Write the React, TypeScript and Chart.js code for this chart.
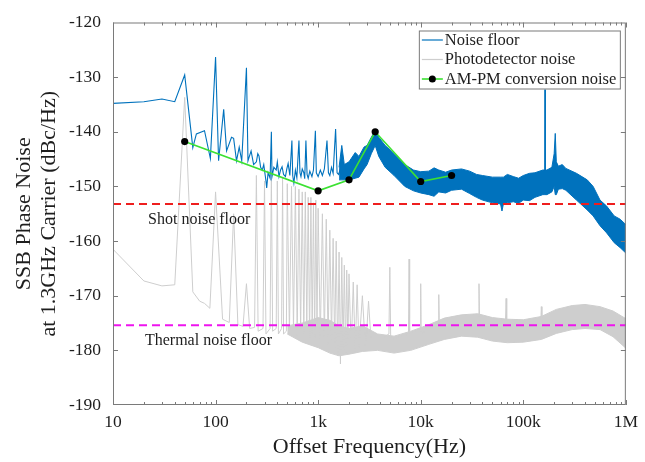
import React, { useEffect, useRef } from "react";
import { Chart, registerables } from "chart.js";
Chart.register(...registerables);

// ---------- axes ----------
const xTickValues = [10, 100, 1000, 10000, 100000, 1000000];
const xTickLabels = ["10", "100", "1k", "10k", "100k", "1M"];
const yMin = -190;
const yMax = -120;
const yStep = 10;

// ---------- Noise floor (blue): sparse low-frequency trace ----------
const noiseLowFreq = [
  10, 20, 30, 40, 50, 60, 65, 78, 89, 100, 107, 120, 128, 143, 150, 160, 170, 180, 200, 207,
  222, 235, 250, 258, 265, 275, 285, 295, 310, 315, 325, 340, 350, 355, 370, 390, 400, 415, 430,
  445, 460, 480, 495, 510, 530, 555, 565, 580, 600, 620, 650, 665, 680, 700, 725, 740, 760, 780,
  800, 830, 870, 900, 940, 960, 1000, 1050, 1100, 1150, 1220, 1260, 1300, 1350, 1400, 1480, 1530,
  1580, 1650,
];
const noiseLowVal = [
  -134.8, -134.5, -134.0, -134.5, -129.6, -142.9, -140.4, -139.8, -144.9, -126.3, -145.3, -135.9,
  -143.5, -141.0, -141.2, -145.3, -142.8, -145.3, -128.3, -145.3,
  -143.5, -146.0, -145.5, -144.0, -144.4, -146.5, -147.0, -146.0, -149.0, -150.3, -147.5, -148.5,
  -140.0, -148.2, -146.5, -147.0, -145.5, -148.2, -147.0, -146.4, -147.8, -148.2, -146.8, -145.8,
  -148.0, -141.6, -148.0, -149.4, -147.0, -148.4, -141.6, -147.5, -148.2, -146.8, -147.5, -148.6,
  -141.6, -147.8, -148.5, -147.2, -148.2, -147.0, -139.8, -147.5, -148.2, -147.0, -148.0, -146.8,
  -141.6, -147.5, -148.0, -146.5, -147.6, -139.5, -147.5, -147.8, -146.8,
];

// ---------- Noise floor (blue): dense band envelope ----------
const noiseBandFreq = [
  1600, 1700, 1800, 2000, 2300, 2500, 2800, 3000, 3300, 3600, 3900, 4500, 5500, 7000, 8500, 10000,
  12000, 13500, 15000, 17500, 20000, 25000, 30000, 35000, 40000, 50000, 60000, 62000, 64000,
  70000, 80000, 90000, 100000, 115000, 130000, 155000, 162000, 163000, 164000, 170000, 190000,
  200000, 205000, 210000, 220000, 240000, 260000, 330000, 420000, 480000, 560000, 650000, 770000,
  880000, 1000000,
];
const noiseBandUpper = [
  -146.5, -142.5, -146.0, -145.5, -143.8, -144.5, -142.8, -142.5, -141.0, -139.8, -141.0, -142.5,
  -144.0, -146.0, -147.0, -147.3, -147.2, -146.6, -147.0, -147.4, -147.0, -146.8, -147.2, -147.8,
  -148.0, -148.3, -148.3, -148.3, -148.3, -147.8, -148.2, -148.5, -148.0, -147.6, -147.5, -147.0,
  -147.0, -132.0, -147.0, -147.0, -146.5, -144.0, -140.3, -145.5, -146.3, -146.0, -146.7, -147.6,
  -148.8, -150.0, -152.5, -153.6, -155.4, -156.0, -157.0,
];
const noiseBandLower = [
  -148.8, -148.8, -148.8, -148.8, -148.5, -148.3, -146.8, -146.0, -144.0, -142.5, -144.5, -146.5,
  -148.0, -150.0, -150.8, -151.2, -151.5, -151.8, -151.0, -151.2, -150.7, -150.5, -151.3, -152.0,
  -152.5, -153.0, -153.2, -154.5, -153.2, -153.0, -152.8, -153.1, -152.5, -152.6, -152.0, -151.5,
  -151.5, -151.5, -151.5, -151.5, -151.0, -150.0, -151.5, -151.5, -150.5, -150.4, -150.7, -152.5,
  -154.3, -155.4, -157.2, -158.5, -160.3, -161.2, -162.2,
];

// ---------- Photodetector noise (gray): trace with harmonic spikes ----------
const pdLineFreq = [
  10, 20, 30, 40, 50, 60, 70, 78, 88, 100, 117, 136, 150, 165, 185, 200, 215, 240, 250, 260,
  290, 300, 310, 340, 350, 360, 390, 400, 410, 440, 450, 460, 490,
  500, 525, 550, 575, 600, 625, 650, 675, 700, 725, 750, 775, 800, 825, 850, 875, 900, 925, 950,
  975, 1000, 1050, 1100, 1150, 1200, 1250, 1300, 1350, 1400, 1450, 1500, 1550, 1600, 1650, 1700,
  1750, 1800, 1850, 1900, 1950, 2000, 2100, 2200, 2300, 2400, 2500, 2700, 2900, 3100, 3300,
  4900, 5000, 5100, 7600, 7700, 7800, 9900, 10000, 10100, 14800, 15000, 15200, 36500, 37000,
  37500, 67000, 68000, 69000, 148000, 150000, 152000,
];
const pdLineVal = [
  -161.5, -167.3, -168.2, -168.0, -133.7, -169.3, -171.0, -171.4, -172.3, -151.0, -174.3, -174.9,
  -155.0, -175.3, -175.6, -167.8, -176.0, -175.8, -148.0, -176.5, -176.0, -149.0, -177.0, -176.0,
  -147.5, -176.5, -176.0, -149.0, -177.0, -176.0, -148.5, -177.0, -176.5,
  -149.5, -177.0, -150.0, -176.0, -150.0, -177.5, -150.5, -176.5, -151.0, -177.0, -151.0, -176.0,
  -152.0, -178.0, -152.0, -177.0, -153.0, -178.0, -152.5, -176.5, -154.0, -178.0, -155.0, -177.5,
  -156.0, -179.0, -158.0, -178.0, -159.5, -179.5, -160.0, -181.0, -162.0, -182.5, -163.0, -180.0,
  -164.4, -180.5, -165.3, -179.0, -166.0, -180.0, -167.5, -180.5, -168.0, -179.5, -170.0, -180.0,
  -171.0, -179.0,
  -177.0, -164.8, -178.0, -177.0, -163.3, -177.0, -176.0, -167.8, -177.0, -175.0, -169.8, -176.0,
  -174.0, -167.8, -175.0, -175.0, -170.5, -176.0, -175.0, -172.0, -175.0,
];

// ---------- Photodetector noise (gray): dense band envelope ----------
const pdBandFreq = [
  500, 700, 1000, 1300, 1600, 2000, 2700, 3800, 5500, 8000, 12000, 17000, 25000, 36000, 50000,
  70000, 100000, 150000, 210000, 300000, 400000, 560000, 750000, 1000000,
];
const pdBandUpper = [
  -175.5, -175.0, -174.0, -174.5, -175.5, -176.0, -175.5, -177.0, -177.4, -176.5, -175.3, -174.1,
  -173.5, -173.3, -174.0, -174.3, -174.4, -173.8, -172.5, -171.8, -171.6, -172.0, -172.8, -174.2,
];
const pdBandLower = [
  -177.0, -178.5, -179.5, -180.5, -181.0, -180.7, -180.2, -180.0, -180.5, -180.0, -178.9, -178.0,
  -177.4, -177.6, -178.3, -178.6, -178.5, -178.0, -176.9, -176.2, -176.0, -176.2, -177.5, -179.6,
];

// ---------- AM-PM conversion noise ----------
const amFreq = [50, 1000, 2000, 3600, 10000, 20000];
const amVal = [-141.8, -150.8, -148.8, -140.0, -149.1, -148.0];

// ---------- reference floors ----------
const floorFreq = [10, 1000000];
const shotNoiseFloor = [-153.2, -153.2];
const thermalNoiseFloor = [-175.4, -175.4];

const shotLabel = { text: "Shot noise floor", x: 22, y: -156.1 };
const thermalLabel = { text: "Thermal noise floor", x: 20.5, y: -178.3 };

const legendItems = ["Noise floor", "Photodetector noise", "AM-PM conversion noise"];

const BLUE = "#0072BD";
const GRAY = "rgb(206,206,206)";
const GREEN = "rgb(60,225,50)";
const RED = "rgb(238,30,30)";
const MAGENTA = "rgb(238,20,238)";
const AXIS = "#7a7a7a";
const TEXT = "#1e1e1e";
const SERIF = "'Liberation Serif', 'Times New Roman', serif";

const pts = (xs: number[], ys: number[]) => xs.map((x, i) => ({ x, y: ys[i] }));

export default function App() {
  const ref = useRef<HTMLCanvasElement | null>(null);

  useEffect(() => {
    document.body.style.margin = "0";
    const canvas = ref.current;
    if (!canvas) return;

    const overlay = {
      id: "overlay",
      afterDraw(chart: any) {
        const { ctx, chartArea: ca, scales } = chart;
        const xs = scales.x;
        const ys = scales.y;
        ctx.save();
        // annotations
        ctx.fillStyle = TEXT;
        ctx.font = `16px ${SERIF}`;
        ctx.textBaseline = "middle";
        ctx.textAlign = "left";
        for (const a of [shotLabel, thermalLabel]) {
          ctx.fillText(a.text, xs.getPixelForValue(a.x), ys.getPixelForValue(a.y));
        }
        // axes box with inward ticks
        ctx.strokeStyle = AXIS;
        ctx.lineWidth = 1;
        ctx.strokeRect(ca.left + 0.5, ca.top + 0.5, ca.right - ca.left - 1, ca.bottom - ca.top - 1);
        ctx.beginPath();
        for (let v = yMin + yStep; v < yMax; v += yStep) {
          const py = Math.round(ys.getPixelForValue(v)) + 0.5;
          ctx.moveTo(ca.left, py);
          ctx.lineTo(ca.left + 5, py);
          ctx.moveTo(ca.right, py);
          ctx.lineTo(ca.right - 5, py);
        }
        for (let d = 0; d < xTickValues.length; d++) {
          const base = xTickValues[d];
          for (let m = 1; m <= 9; m++) {
            const f = base * m;
            if (f > xTickValues[xTickValues.length - 1]) break;
            const len = m === 1 ? 5 : 3;
            const px = Math.round(xs.getPixelForValue(f)) + 0.5;
            ctx.moveTo(px, ca.bottom);
            ctx.lineTo(px, ca.bottom - len);
            ctx.moveTo(px, ca.top);
            ctx.lineTo(px, ca.top + len);
          }
        }
        ctx.stroke();

        // legend
        const bw = 202;
        const bh = 59;
        const bx = ca.right - 5 - bw;
        const by = ca.top + 8;
        ctx.fillStyle = "#ffffff";
        ctx.fillRect(bx, by, bw, bh);
        ctx.strokeStyle = AXIS;
        ctx.strokeRect(bx + 0.5, by + 0.5, bw - 1, bh - 1);
        const rows = [by + 9.5, by + 29, by + 48.5];
        const styles = [
          { c: BLUE, w: 1.2 },
          { c: GRAY, w: 1.2 },
          { c: GREEN, w: 1.6 },
        ];
        ctx.font = `16.5px ${SERIF}`;
        ctx.textBaseline = "middle";
        for (let i = 0; i < legendItems.length; i++) {
          ctx.strokeStyle = styles[i].c;
          ctx.lineWidth = styles[i].w;
          ctx.beginPath();
          ctx.moveTo(bx + 3, rows[i]);
          ctx.lineTo(bx + 24, rows[i]);
          ctx.stroke();
          if (i === 2) {
            ctx.fillStyle = "#000";
            ctx.beginPath();
            ctx.arc(bx + 13.5, rows[i], 3.5, 0, Math.PI * 2);
            ctx.fill();
          }
          ctx.fillStyle = TEXT;
          ctx.fillText(legendItems[i], bx + 26, rows[i] + 0.5);
        }
        ctx.restore();
      },
    };

    const chart = new Chart(canvas, {
      type: "line",
      data: {
        datasets: [
          {
            label: "AM-PM conversion noise",
            data: pts(amFreq, amVal),
            borderColor: GREEN,
            borderWidth: 1.6,
            pointRadius: 3.6,
            pointBackgroundColor: "#000",
            pointBorderColor: "#000",
            pointBorderWidth: 0,
            order: 1,
          },
          {
            label: "shot",
            data: pts(floorFreq, shotNoiseFloor),
            borderColor: RED,
            borderWidth: 2,
            borderDash: [8, 5],
            pointRadius: 0,
            order: 2,
          },
          {
            label: "thermal",
            data: pts(floorFreq, thermalNoiseFloor),
            borderColor: MAGENTA,
            borderWidth: 2,
            borderDash: [8, 5],
            pointRadius: 0,
            order: 3,
          },
          {
            label: "Noise floor",
            data: pts(noiseLowFreq, noiseLowVal),
            borderColor: BLUE,
            borderWidth: 1.1,
            pointRadius: 0,
            order: 4,
          },
          {
            label: "noise band upper",
            data: pts(noiseBandFreq, noiseBandUpper),
            borderColor: BLUE,
            borderWidth: 1,
            pointRadius: 0,
            fill: false,
            order: 5,
          },
          {
            label: "noise band lower",
            data: pts(noiseBandFreq, noiseBandLower),
            borderColor: BLUE,
            backgroundColor: BLUE,
            borderWidth: 1,
            pointRadius: 0,
            fill: "-1",
            order: 5,
          },
          {
            label: "Photodetector noise",
            data: pts(pdLineFreq, pdLineVal),
            borderColor: GRAY,
            borderWidth: 1,
            pointRadius: 0,
            order: 7,
          },
          {
            label: "pd band upper",
            data: pts(pdBandFreq, pdBandUpper),
            borderColor: GRAY,
            borderWidth: 1,
            pointRadius: 0,
            fill: false,
            order: 8,
          },
          {
            label: "pd band lower",
            data: pts(pdBandFreq, pdBandLower),
            borderColor: GRAY,
            backgroundColor: GRAY,
            borderWidth: 1,
            pointRadius: 0,
            fill: "-1",
            order: 8,
          },
        ],
      },
      options: {
        responsive: false,
        animation: false,
        events: [],
        layout: { padding: { top: 17, right: 16, left: 0, bottom: 0 } },
        plugins: {
          legend: { display: false },
          tooltip: { enabled: false },
        },
        scales: {
          x: {
            type: "logarithmic",
            min: 10,
            max: 1000000,
            grid: { display: false, drawTicks: false },
            border: { display: false },
            afterBuildTicks: (scale: any) => {
              scale.ticks = xTickValues.map((v) => ({ value: v }));
            },
            afterFit: (scale: any) => {
              scale.height = 57;
            },
            ticks: {
              autoSkip: false,
              maxRotation: 0,
              padding: 7,
              color: TEXT,
              font: { family: SERIF, size: 17.5 },
              callback: (value: any) => {
                const i = xTickValues.indexOf(Number(value));
                return i >= 0 ? xTickLabels[i] : "";
              },
            },
            title: {
              display: true,
              text: "Offset Frequency(Hz)",
              color: TEXT,
              font: { family: SERIF, size: 22, lineHeight: 1.14 },
              padding: { top: 0, bottom: 2.5 },
            },
          },
          y: {
            type: "linear",
            min: yMin,
            max: yMax,
            grid: { display: false, drawTicks: false },
            border: { display: false },
            afterFit: (scale: any) => {
              scale.width = 113;
            },
            ticks: {
              stepSize: yStep,
              padding: 12,
              color: TEXT,
              font: { family: SERIF, size: 17.5 },
              callback: (value: any) => String(value),
            },
            title: {
              display: true,
              text: ["SSB Phase Noise", "at 1.3GHz Carrier (dBc/Hz)"],
              color: TEXT,
              font: { family: SERIF, size: 22, lineHeight: 1.14 },
              padding: { top: 11.5, bottom: 0 },
            },
          },
        },
      },
      plugins: [overlay],
    } as any);

    return () => chart.destroy();
  }, []);

  return <canvas ref={ref} width={645} height={462} style={{ display: "block" }} />;
}
